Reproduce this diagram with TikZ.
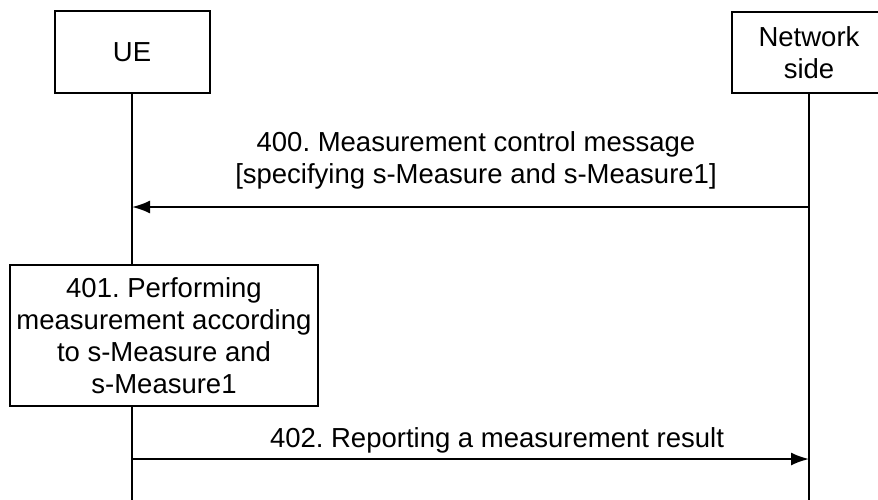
\documentclass[tikz,border=0pt]{standalone}
\usepackage{fontspec}
\setmainfont{Liberation Sans}
\usetikzlibrary{arrows.meta}
\frenchspacing

\tikzset{
  entity/.style={draw, line width=2pt, align=center, inner sep=0pt},
  life/.style={line width=2pt},
  msg/.style={line width=2pt, -{Latex[length=18pt,width=13pt]}},
  msglabel/.style={inner sep=0pt, align=center}
}

\begin{document}
\begin{tikzpicture}[x=1pt,y=-1pt,font=\fontsize{27.5}{32}\selectfont]
	\useasboundingbox (0,0) rectangle (878,500);
	
	% the two sides
	\node[entity, minimum width=155pt, minimum height=82pt] (ue) at (132,52) {UE};
	\node[entity, minimum width=154pt, minimum height=81pt] (net) at (809,52.5) {Network\\side};
	\coordinate (ueEnd) at (132,500);
	\coordinate (netEnd) at (809,500);
	
	% step 401 on the UE side
	\node[entity, minimum width=308pt, minimum height=141pt] (act) at (164,335.5)
		{401. Performing\\measurement according\\to s-Measure and\\s-Measure1};
	
	% lifelines
	\draw[life] (ue.south) -- (ue.south |- act.north);
	\draw[life] (ue.south |- act.south) -- (ueEnd);
	\draw[life] (net.south) -- (netEnd);
	
	% 400
	\draw[msg] (net.south |- 0,207) -- (ue.south |- 0,207);
	\node[msglabel, anchor=south] (l400) at (476,189)
		{400. Measurement control message\\{}[specifying s-Measure and s-Measure1]};
	
	% 402
	\draw[msg] (ue.south |- 0,459) -- (net.south |- 0,459);
	\node[msglabel, anchor=base] (l402) at (497,447) {402. Reporting a measurement result};
\end{tikzpicture}
\end{document}
